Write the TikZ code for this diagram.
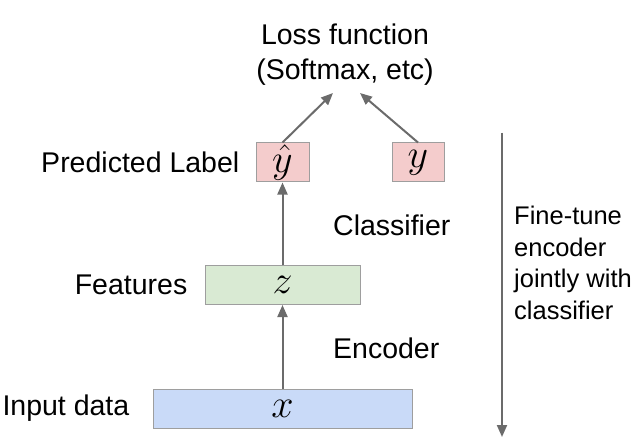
\RequirePackage{fix-cm}
\documentclass[tikz,border=0pt]{standalone}
\usepackage{fontspec}
\setmainfont{Liberation Sans}
\usetikzlibrary{positioning, arrows.meta}
\definecolor{pinkfill}{HTML}{F4CCCC}
\definecolor{greenfill}{HTML}{D9EAD3}
\definecolor{bluefill}{HTML}{C9DAF8}
\definecolor{boxgray}{HTML}{9E9E9E}
\definecolor{arrgray}{HTML}{6B6B6B}
\tikzset{>={Triangle[length=12pt,width=10pt]},
arr/.style={->, draw=arrgray, fill=arrgray, line width=2pt},
box/.style={draw=boxgray, line width=1pt, minimum height=39pt, inner sep=0pt,
  font=\fontsize{40}{44}\selectfont},
lbl/.style={font=\fontsize{28.5}{35}\selectfont, inner sep=0pt}}

\begin{document}
\begin{tikzpicture}[x=1pt,y=-1pt]
\useasboundingbox (0,0) rectangle (641,444);
% boxes
\node[box, fill=pinkfill, minimum width=53pt] (yhat) at (282.5,162.5) {$\hat{y}$};
\node[box, fill=pinkfill, minimum width=52pt] (ytrue) at (418,162.5) {$y$};
\node[box, fill=greenfill, minimum width=155pt] (z) at (282.5,285) {$z$};
\node[box, fill=bluefill, minimum width=259pt] (x) at (282.5,408.5) {$x$};
% labels
\node[lbl, align=center] (loss) at (345,55) {Loss function\\(Softmax, etc)};
\node[lbl, left=16pt of yhat] (pred) {Predicted Label};
\node[lbl, left=17pt of z] (feat) {Features};
\node[lbl, left=23pt of x] (input) {Input data};
\node[lbl, anchor=west] (clf) at (333,225) {Classifier};
\node[lbl, anchor=west] (enc) at (333,348) {Encoder};
\node[lbl, font=\fontsize{25.5}{31.5}\selectfont, align=left, anchor=west] (finetune)
  at (514,263) {Fine-tune\\encoder\\jointly with\\classifier};
\coordinate (lossL) at (333,93);
\coordinate (lossR) at (360,93);
\coordinate (ftTop) at (502,133);
\coordinate (ftBot) at (502,437);
% arrows
\draw[arr] (x) -- (z);
\draw[arr] (z) -- (yhat);
\draw[arr] (yhat.north) -- (lossL);
\draw[arr] (ytrue.north) -- (lossR);
\draw[arr] (ftTop) -- (ftBot);
\end{tikzpicture}
\end{document}
